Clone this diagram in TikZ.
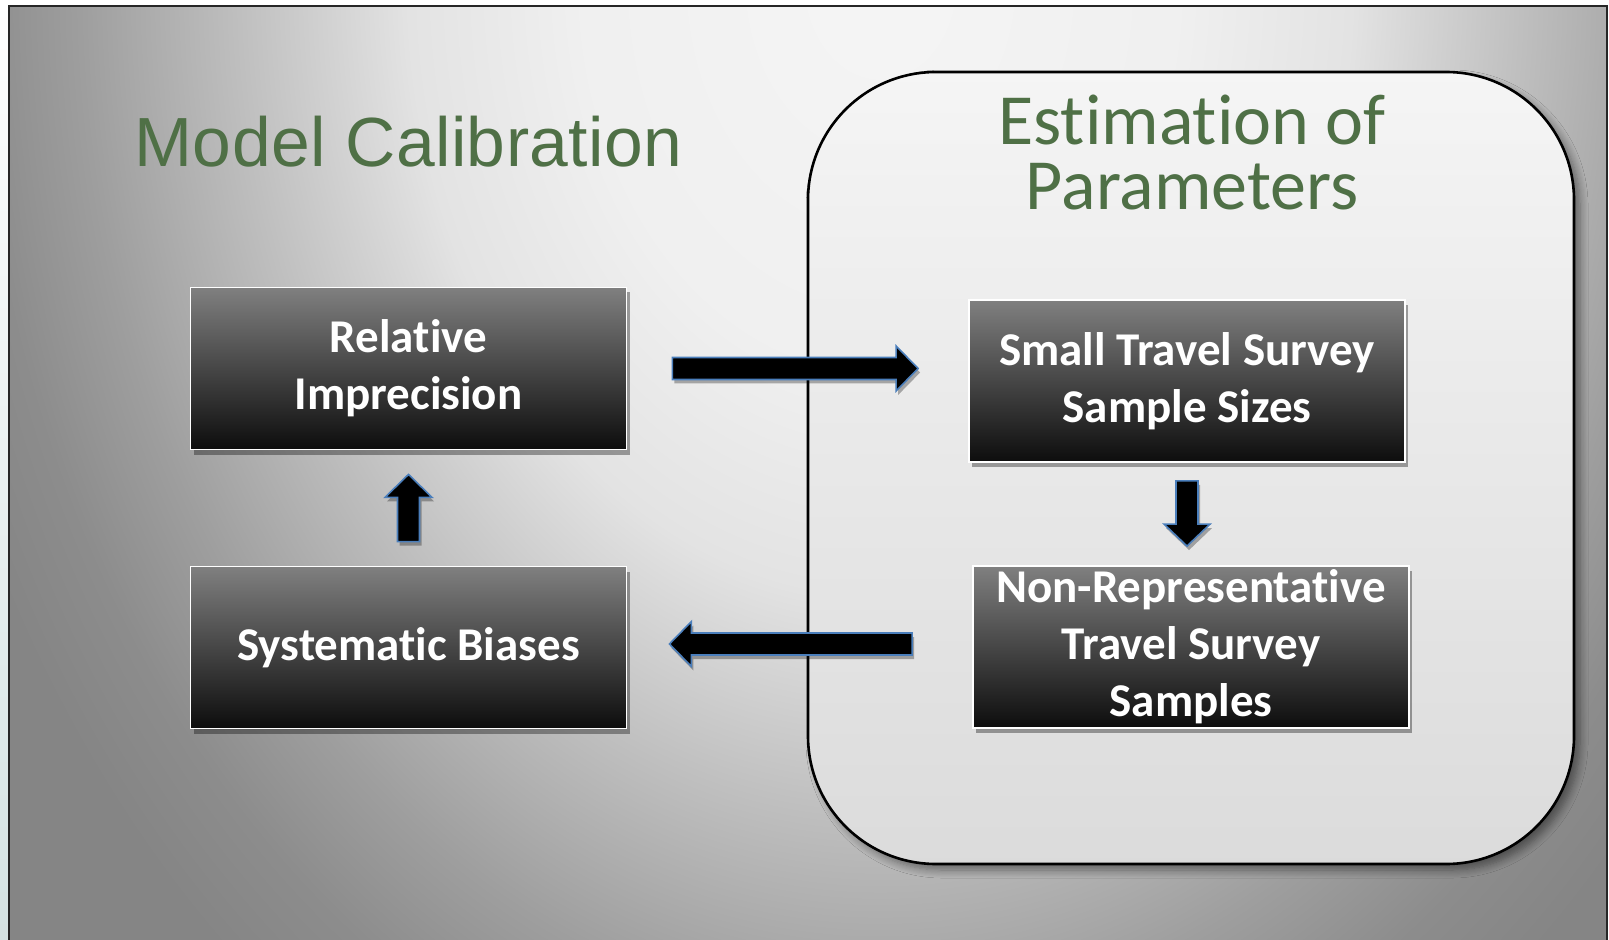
\documentclass[tikz,border=0pt]{standalone}
\usepackage{fontspec}
\setmainfont{Carlito}[Ligatures=NoCommon]
\newfontfamily\arialf{Liberation Sans}[LetterSpace=0.6]
\usetikzlibrary{calc,shadows,shadows.blur}
\definecolor{titlegreen}{HTML}{4F7046}
\definecolor{arrblue}{HTML}{4A7EBB}
\definecolor{bgA}{gray}{0.96}
\definecolor{bgB}{gray}{0.94}
\definecolor{bgC}{gray}{0.89}
\definecolor{bgD}{gray}{0.75}
\definecolor{bgE}{gray}{0.62}
\definecolor{bgF}{gray}{0.55}
\definecolor{bgG}{gray}{0.52}
\definecolor{stripc}{HTML}{D4E2E2}
% 1bp of shading = 80px when the shaded ellipse has x radius 2000
\pgfdeclareradialshading{bgshade}{\pgfpoint{0bp}{0bp}}{color(0bp)=(bgA); color(3.75bp)=(bgB); color(5.9bp)=(bgC); color(8bp)=(bgD); color(10bp)=(bgE); color(11.3bp)=(bgF); color(12.5bp)=(bgG); color(50bp)=(bgG)}
\tikzset{
  procbox/.style={draw=white, line width=0.9pt, top color=black!50, bottom color=black!95,
    minimum width=218pt, minimum height=81pt, inner sep=0pt, text=white, align=center,
    font=\bfseries\fontsize{23.5}{28.5}\selectfont,
    drop shadow={shadow xshift=1.5pt, shadow yshift=-2.5pt, opacity=0.35, fill=black}},
  blk/.style={fill=black, draw=arrblue, line width=0.8pt, line join=miter,
    drop shadow={shadow xshift=1pt, shadow yshift=-2pt, opacity=0.3, fill=black}},
  titletext/.style={text=titlegreen, inner sep=0pt},
}
\begin{document}
\begin{tikzpicture}[x=0.5pt,y=-0.5pt]
\useasboundingbox (0,0) rectangle (1609,940);
% page outside the frame
\fill[white] (0,0) rectangle (1609,940);
\shade[top color=white, bottom color=stripc] (0,0) rectangle (9,940);
% frame with radial background
\begin{scope}
  \clip (9,6) rectangle (1607,945);
  \shade[shading=bgshade] (880,-20) ellipse [x radius=2000, y radius=2600];
\end{scope}
\draw[black!85, line width=1pt] (9,945) -- (9,6) -- (1607,6) -- (1607,945);
% estimation container
\node[draw=black, line width=1.3pt, rounded corners=64pt, top color=black!4, bottom color=black!14,
  minimum width=383pt, minimum height=396pt, inner sep=0pt,
  blur shadow={shadow xshift=3pt, shadow yshift=-3pt, shadow blur steps=8, shadow blur radius=4pt, shadow opacity=45}]
  (est) at (1191,468) {};
% titles
\node[titletext, anchor=base, font=\arialf\fontsize{34.8}{40}\selectfont] (mctitle) at (408.5,167) {Model Calibration};
\node[titletext, anchor=base, font=\fontsize{36}{32.5}\selectfont] (esttitle1) at (1192,145) {Estimation of};
\node[titletext, anchor=base, font=\fontsize{36}{32.5}\selectfont] (esttitle2) at (1192,210) {Parameters};
% process boxes
\node[procbox] (rel) at (408.5,368.5) {\raisebox{-1.5pt}{\parbox{200pt}{\centering Relative\\Imprecision}}};
\node[procbox] (sys) at (408.5,647.5) {Systematic Biases};
\node[procbox] (sts) at (1187,381) {\raisebox{-1.5pt}{\parbox{215pt}{\centering Small Travel Survey\\Sample Sizes}}};
\node[procbox] (nrep) at (1191,647) {Non-Representative\\Travel Survey\\Samples};
% arrow end points
\coordinate (a1s) at ($(rel.east)+(45,0)$);
\coordinate (a1e) at ($(a1s -| sts.west)+(-50,0)$);
\coordinate (a2s) at ($(sts.south)+(0,18)$);
\coordinate (a2e) at ($(a2s |- nrep.north)+(0,-19)$);
\coordinate (a3s) at ($(nrep.west)+(-60,-3)$);
\coordinate (a3e) at ($(a3s -| sys.east)+(42,0)$);
\coordinate (a4s) at ($(sys.north)+(0,-24)$);
\coordinate (a4e) at ($(a4s |- rel.south)+(0,24)$);
% right arrow
\draw[blk] ($(a1s)+(0,-11)$) -- ($(a1e)+(-22,-11)$) -- ($(a1e)+(-22,-22.5)$) -- (a1e)
  -- ($(a1e)+(-22,22.5)$) -- ($(a1e)+(-22,11)$) -- ($(a1s)+(0,11)$) -- cycle;
% down arrow
\draw[blk] ($(a2s)+(-11,0)$) -- ($(a2e)+(-11,-22)$) -- ($(a2e)+(-23,-22)$) -- (a2e)
  -- ($(a2e)+(23,-22)$) -- ($(a2e)+(11,-22)$) -- ($(a2s)+(11,0)$) -- cycle;
% left arrow
\draw[blk] ($(a3s)+(0,-11)$) -- ($(a3e)+(22,-11)$) -- ($(a3e)+(22,-22.5)$) -- (a3e)
  -- ($(a3e)+(22,22.5)$) -- ($(a3e)+(22,11)$) -- ($(a3s)+(0,11)$) -- cycle;
% up arrow
\draw[blk] ($(a4s)+(-11,0)$) -- ($(a4e)+(-11,23)$) -- ($(a4e)+(-23.5,23)$) -- (a4e)
  -- ($(a4e)+(23.5,23)$) -- ($(a4e)+(11,23)$) -- ($(a4s)+(11,0)$) -- cycle;
\end{tikzpicture}
\end{document}
